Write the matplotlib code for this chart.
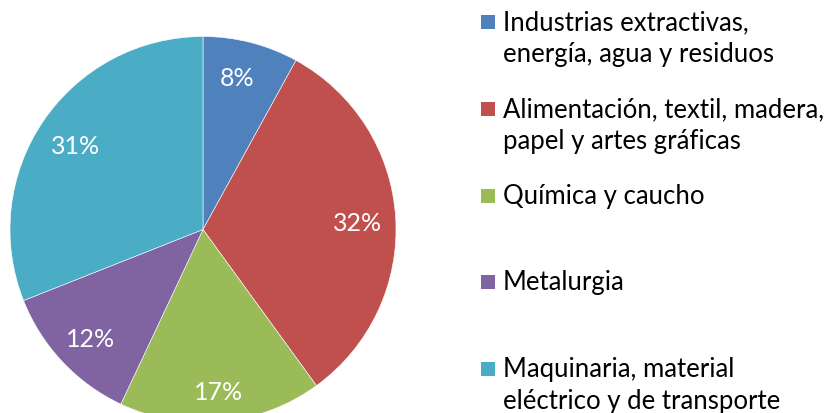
import matplotlib
matplotlib.use("Agg")
import matplotlib.pyplot as plt
from matplotlib.patches import Rectangle
import numpy as np

categories = [
    "Industrias extractivas,\nenergía, agua y residuos",
    "Alimentación, textil, madera,\npapel y artes gráficas",
    "Química y caucho",
    "Metalurgia",
    "Maquinaria, material\neléctrico y de transporte",
]
values = [8, 32, 17, 12, 31]
colors = ["#4F81BD", "#C0504D", "#9BBB59", "#8064A2", "#4BACC6"]
label_dist = [0.82, 0.80, 0.83, 0.80, 0.80]
label_ang_shift = [2.0, 0, 0, 0, 0]

FONT = ["Lato", "DejaVu Sans"]
plt.rcParams["font.family"] = FONT

W, H = 827, 414
fig = plt.figure(figsize=(W / 100, H / 100), dpi=100)
fig.patch.set_facecolor("white")

# pie axes: center (203, 230.5) px, radius 193 px
cx, cy, r = 203, 230.5, 193
ax = fig.add_axes([(cx - r) / W, (H - cy - r) / H, 2 * r / W, 2 * r / H])

wedges, texts = ax.pie(
    values,
    colors=colors,
    startangle=90,
    counterclock=False,
    radius=1,
    labels=[f"{v}%" for v in values],
    labeldistance=0.82,
    wedgeprops=dict(edgecolor="white", linewidth=0.4),
    textprops=dict(color="white", fontsize=18),
)
ax.set_xlim(-1, 1)
ax.set_ylim(-1, 1)
ax.set_aspect("equal")
ax.axis("off")
for t, w, d, s in zip(texts, wedges, label_dist, label_ang_shift):
    ang = np.deg2rad((w.theta1 + w.theta2) / 2 + s)
    t.set_position((d * np.cos(ang), d * np.sin(ang) - 0.015))
    t.set_ha("center")
    t.set_va("center")

# legend drawn manually (handles aligned with first text line)
baselines = [30, 117, 204, 290, 377]
line_step = 32
for lab, col, yb in zip(categories, colors, baselines):
    fig.patches.append(Rectangle((481 / W, (H - yb) / H), 14 / W, 14 / H,
                                 transform=fig.transFigure, facecolor=col,
                                 edgecolor="none"))
    for k, line in enumerate(lab.split("\n")):
        fig.text(503 / W, (H - yb - k * line_step) / H, line, fontsize=18.5,
                 color="#000000", ha="left", va="baseline")

fig.savefig("out.png", dpi=100)
